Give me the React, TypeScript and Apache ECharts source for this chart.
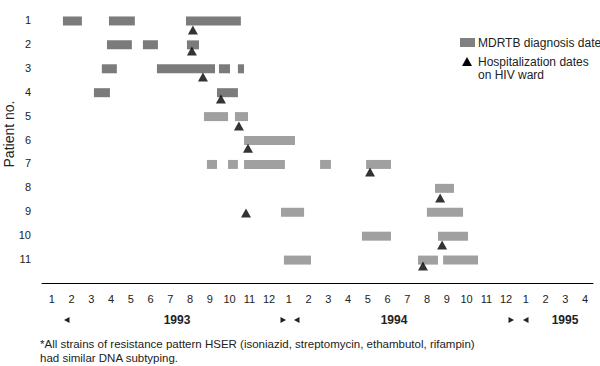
import React, { useEffect, useRef } from "react";
import * as echarts from "echarts";

// Months: Jan 1993 = 1 ... Dec 1993 = 12, Jan 1994 = 13, ..., Apr 1995 = 28
const monthTicks = Array.from({ length: 28 }, (_, i) => i + 1);
const patients = [1, 2, 3, 4, 5, 6, 7, 8, 9, 10, 11];

// MDRTB diagnosis date bars per patient: [row, start, end]
const diagnosisBars: [number, number, number][] = [
  [1, 1.56, 2.52], [1, 3.89, 5.2], [1, 7.79, 10.57],
  [2, 3.79, 5.05], [2, 5.61, 6.37], [2, 7.84, 8.45],
  [3, 3.53, 4.29], [3, 6.32, 9.26], [3, 9.46, 10.02], [3, 10.42, 10.73],
  [4, 3.13, 3.94], [4, 9.36, 10.42],
  [5, 8.7, 9.92], [5, 10.27, 10.93],
  [6, 10.73, 13.31],
  [7, 8.85, 9.36], [7, 9.92, 10.42], [7, 10.73, 12.8], [7, 14.58, 15.13], [7, 16.91, 18.17],
  [8, 20.4, 21.36],
  [9, 12.6, 13.77], [9, 19.99, 21.82],
  [10, 16.7, 18.17], [10, 20.55, 22.07],
  [11, 12.75, 14.12], [11, 19.54, 20.55], [11, 20.81, 22.58],
];

// Hospitalization dates on HIV ward: [month, vertical position]
const hospitalizations: [number, number][] = [
  [8.14, 1.42], [8.09, 2.3], [8.65, 3.39], [9.56, 4.31], [10.47, 5.43],
  [10.93, 6.36], [17.11, 7.36], [20.66, 8.45], [10.83, 9.07], [20.76, 10.41], [19.79, 11.29],
];

const yearLabels = ["1993", "1994", "1995"];
const legendLabels = ["MDRTB diagnosis date", "Hospitalization dates", "on HIV ward"];
const footnote = [
  "*All strains of resistance pattern HSER (isoniazid, streptomycin, ethambutol, rifampin)",
  "had similar DNA subtyping.",
];

const FONT = "'Liberation Sans', Arial, sans-serif";

export default function App() {
  const ref = useRef<HTMLDivElement>(null);
  useEffect(() => {
    const chart = echarts.init(ref.current!, undefined, { renderer: "svg" });
    const txt = (x: number, y: number, text: string, extra: any = {}) => ({
      type: "text",
      x,
      y,
      style: { text, fill: "#222", font: `12px ${FONT}`, textVerticalAlign: "middle", ...extra },
    });
    const tri = (cx: number, cy: number, dir: number) => ({
      type: "polygon",
      shape: {
        points:
          dir > 0
            ? [[cx - 2.5, cy - 3], [cx + 3, cy], [cx - 2.5, cy + 3]]
            : [[cx + 2.5, cy - 3], [cx - 3, cy], [cx + 2.5, cy + 3]],
      },
      style: { fill: "#222" },
    });
    chart.setOption({
      animation: false,
      grid: { left: 42, right: 7, top: 8, bottom: 83 },
      xAxis: {
        type: "value",
        min: 0.5,
        max: 28.4,
        axisLine: { show: true, lineStyle: { color: "#000", width: 1 } },
        axisTick: { show: false },
        splitLine: { show: false },
        axisLabel: {
          customValues: monthTicks,
          formatter: (v: number) => String(((Math.round(v) - 1) % 12) + 1),
          color: "#222",
          fontSize: 11,
          fontFamily: FONT,
          margin: 10,
        },
      },
      yAxis: {
        type: "value",
        inverse: true,
        min: 0.5,
        max: 12,
        axisLine: { show: false },
        axisTick: { show: false },
        splitLine: { show: false },
        axisLabel: {
          customValues: patients,
          color: "#222",
          fontSize: 11,
          fontFamily: FONT,
          margin: 11,
        },
      },
      series: [
        {
          type: "custom",
          data: diagnosisBars,
          encode: { x: [1, 2], y: 0 },
          renderItem: (params: any, api: any) => {
            const row = api.value(0);
            const s = api.coord([api.value(1), row]);
            const e = api.coord([api.value(2), row]);
            const h = 9;
            return {
              type: "rect",
              shape: { x: s[0], y: s[1] - h / 2 + 1, width: e[0] - s[0], height: h },
              style: { fill: row <= 4 ? "#7b7b7b" : "#a0a0a0" },
            };
          },
        },
        {
          type: "scatter",
          data: hospitalizations,
          symbol: "triangle",
          symbolSize: [10, 9],
          itemStyle: { color: "#000" },
        },
      ],
      graphic: [
        {
          type: "text",
          x: 9,
          y: 134,
          rotation: Math.PI / 2,
          style: {
            text: "Patient no.",
            fill: "#222",
            font: `14px ${FONT}`,
            textAlign: "center",
            textVerticalAlign: "middle",
          },
        },
        { type: "rect", shape: { x: 460, y: 38, width: 15, height: 9 }, style: { fill: "#808080" } },
        txt(478, 43, legendLabels[0]),
        {
          type: "polygon",
          shape: { points: [[467, 57], [462, 66], [472, 66]] },
          style: { fill: "#000" },
        },
        txt(478, 62, legendLabels[1]),
        txt(478, 75, legendLabels[2]),
        tri(67, 320, -1),
        txt(177, 320, yearLabels[0], { textAlign: "center", font: `bold 12px ${FONT}` }),
        tri(283, 320, 1),
        tri(297, 320, -1),
        txt(394, 320, yearLabels[1], { textAlign: "center", font: `bold 12px ${FONT}` }),
        tri(511, 320, 1),
        tri(526, 320, -1),
        txt(565, 320, yearLabels[2], { textAlign: "center", font: `bold 12px ${FONT}` }),
        txt(40, 344, footnote[0], { font: `11.5px ${FONT}` }),
        txt(40, 358, footnote[1], { font: `11.5px ${FONT}` }),
      ],
    });
    return () => chart.dispose();
  }, []);
  return (
    <div
      ref={ref}
      style={{ position: "fixed", left: 0, top: 0, width: 600, height: 366, background: "#fff" }}
    />
  );
}
